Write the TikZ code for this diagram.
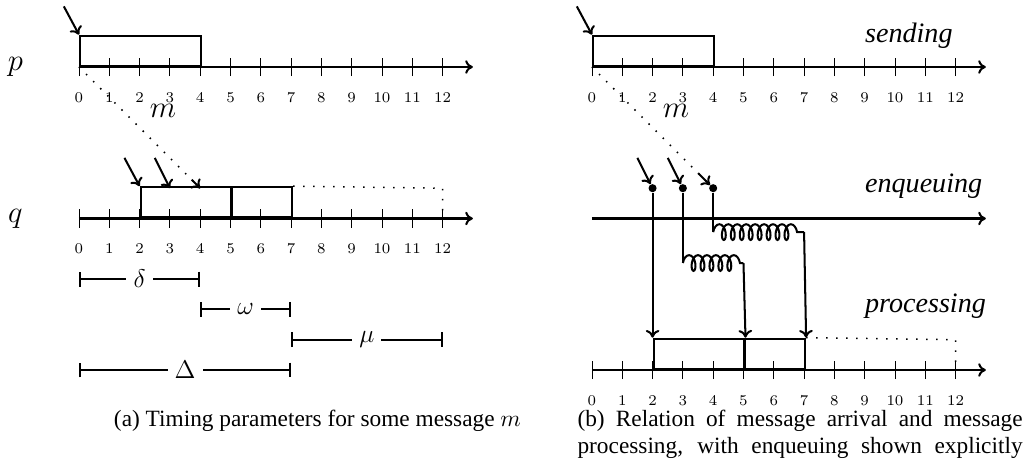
\documentclass[tikz,border=0pt]{standalone}
\usepackage{fontspec}
\newfontfamily\capfont{Liberation Serif}
\usetikzlibrary{decorations.pathmorphing,arrows.meta}
\tikzset{
  >={To[length=3.6pt,width=6.4pt]},
  bold/.style={line width=0.95pt},
  axisline/.style={bold,->},
  tickline/.style={line width=0.45pt},
  ticklabel/.style={font=\scriptsize, inner sep=0pt},
  msgbox/.style={draw, bold, inner sep=0pt, anchor=south west, minimum height=0.5cm},
  arr/.style={bold,->},
  dotline/.style={line width=0.7pt, dash pattern=on 0.7pt off 4pt},
  spanline/.style={bold, {Bar[width=7pt]}-{Bar[width=7pt]}},
  spanlabel/.style={fill=white, font=\large},
  spring/.style={bold, decorate, decoration={coil, amplitude=3.7pt, segment length=4.2pt}},
  phase/.style={font=\capfont\itshape\fontsize{13.2}{16}\selectfont, anchor=base west, inner sep=0pt},
  captext/.style={font=\capfont\fontsize{10.95}{13.6}\selectfont, anchor=base, inner sep=0pt},
  qdot/.style={circle, fill, inner sep=0pt, minimum size=3.8pt},
  proc/.style={font=\Large},
}
\begin{document}
\begin{tikzpicture}[x=0.5cm,y=0.5cm]
\useasboundingbox (-2.607,-13.135) rectangle (31.287,2.211);
% ================= left panel =================
\node[proc] (Lp) at (-2.1,0) {$p$};
\node[proc] (Lq) at (-2.1,-5) {$q$};
\coordinate (Lp0) at (0,0);
\coordinate (LpEnd) at (13,0);
\draw[axisline] (Lp0) -- (LpEnd);
\foreach \i in {0,...,12} {
  \draw[tickline] (\i,-0.3) -- (\i,0.3);
  \node[ticklabel] (Lpt\i) at (\i,-1) {\i};
}
\node[msgbox, minimum width=2cm] (Lpbox) at (0,0) {};
\coordinate (LpIn) at (-0.5,2);
\draw[arr] (LpIn) -- (Lpbox.north west);
% q axis
\coordinate (Lq0) at (0,-5);
\coordinate (LqEnd) at (13,-5);
\draw[axisline] (Lq0) -- (LqEnd);
\foreach \i in {0,...,12} {
  \draw[tickline] (\i,-5.3) -- (\i,-4.7);
  \node[ticklabel] (Lqt\i) at (\i,-6) {\i};
}
\node[msgbox, minimum width=1.5cm] (Lqb1) at (2,-5) {};
\node[msgbox, minimum width=1cm] (Lqb2) at (5,-5) {};
\coordinate (LqIn2) at (1.5,-3);
\coordinate (LqIn3) at (2.5,-3);
\coordinate (Lq3top) at (3,-4);
\coordinate (Lq4top) at (4,-4);
\draw[arr] (LqIn2) -- (Lqb1.north west);
\draw[arr] (LqIn3) -- (Lq3top);
\draw[dotline] (Lp0) -- coordinate[pos=0.93] (LmsgTip) (Lq4top);
\draw[arr] (LmsgTip) -- (Lq4top);
\node[proc] (Lm) at (2.77,-1.45) {$m$};
\coordinate (Lq12top) at (12,-4);
\coordinate (Lq12) at (12,-5);
\draw[dotline] (Lqb2.north east) -- (Lq12top) -- (Lq12);
% intervals
\coordinate (Ld0) at (0,-7);  \coordinate (Ld1) at (4,-7);
\coordinate (Lw0) at (4,-8);  \coordinate (Lw1) at (7,-8);
\coordinate (Lu0) at (7,-9);  \coordinate (Lu1) at (12,-9);
\coordinate (LD0) at (0,-10); \coordinate (LD1) at (7,-10);
\draw[spanline] (Ld0) -- node[spanlabel] (Ldelta) {$\delta$} (Ld1);
\draw[spanline] (Lw0) -- node[spanlabel] (Lomega) {$\omega$} (Lw1);
\draw[spanline] (Lu0) -- node[spanlabel] (Lmu) {$\mu$} (Lu1);
\draw[spanline] (LD0) -- node[spanlabel] (LDelta) {$\Delta$} (LD1);
\node[captext] (capa) at (7.87,-11.88) {(a) Timing parameters for some message $m$};
% ================= right panel =================
\begin{scope}[shift={(16.93,0)}]
\coordinate (Rp0) at (0,0);
\coordinate (RpEnd) at (13,0);
\draw[axisline] (Rp0) -- (RpEnd);
\foreach \i in {0,...,12} {
  \draw[tickline] (\i,-0.3) -- (\i,0.3);
  \node[ticklabel] (Rpt\i) at (\i,-1) {\i};
}
\node[msgbox, minimum width=2cm] (Rpbox) at (0,0) {};
\coordinate (RpIn) at (-0.5,2);
\draw[arr] (RpIn) -- (Rpbox.north west);
\node[phase] (Rsend) at (9,0.8) {sending};
% enqueuing
\coordinate (Re0) at (0,-5);
\coordinate (ReEnd) at (13,-5);
\draw[axisline] (Re0) -- (ReEnd);
\node[phase] (Renq) at (9,-4.15) {enqueuing};
\node[qdot] (Rd2) at (2,-4) {};
\node[qdot] (Rd3) at (3,-4) {};
\node[qdot] (Rd4) at (4,-4) {};
\coordinate (RIn2) at (1.5,-3);
\coordinate (RIn3) at (2.5,-3);
\draw[arr] (RIn2) -- (Rd2);
\draw[arr] (RIn3) -- (Rd3);
\draw[dotline] (Rp0) -- coordinate[pos=0.9] (RmsgTip) (Rd4);
\draw[arr] (RmsgTip) -- (Rd4);
\node[proc] (Rm) at (2.77,-1.45) {$m$};
% processing
\coordinate (Rr0) at (0,-10);
\coordinate (RrEnd) at (13,-10);
\draw[axisline] (Rr0) -- (RrEnd);
\foreach \i in {0,...,12} {
  \draw[tickline] (\i,-10.3) -- (\i,-9.7);
  \node[ticklabel] (Rrt\i) at (\i,-11) {\i};
}
\node[msgbox, minimum width=1.5cm] (Rrb1) at (2,-10) {};
\node[msgbox, minimum width=1cm] (Rrb2) at (5,-10) {};
\node[phase] (Rproc) at (9,-8.1) {processing};
\coordinate (Rr12top) at (12,-9);
\coordinate (Rr12) at (12,-10);
\draw[dotline] (Rrb2.north east) -- (Rr12top) -- (Rr12);
% queue springs
\coordinate (Rc3s) at (3,-6.47);
\coordinate (Rc3e) at (5,-6.47);
\coordinate (Rc4s) at (4,-5.45);
\coordinate (Rc4e) at (7,-5.45);
\draw[arr] (Rd2) -- (Rrb1.north west);
\draw[bold] (Rd3) -- (Rc3s);
\draw[spring] (Rc3s) -- (Rc3e);
\draw[arr] (Rc3e) -- (Rrb1.north east);
\draw[bold] (Rd4) -- (Rc4s);
\draw[spring] (Rc4s) -- (Rc4e);
\draw[arr] (Rc4e) -- (Rrb2.north east);
\end{scope}
\node[captext, anchor=base west] (capb1) at (16.44,-11.85) {\makebox[7.345cm][s]{(b) Relation of message arrival and message}};
\node[captext, anchor=base west] (capb2) at (16.44,-12.74) {\makebox[7.345cm][s]{processing, with enqueuing shown explicitly}};
\end{tikzpicture}
\end{document}
